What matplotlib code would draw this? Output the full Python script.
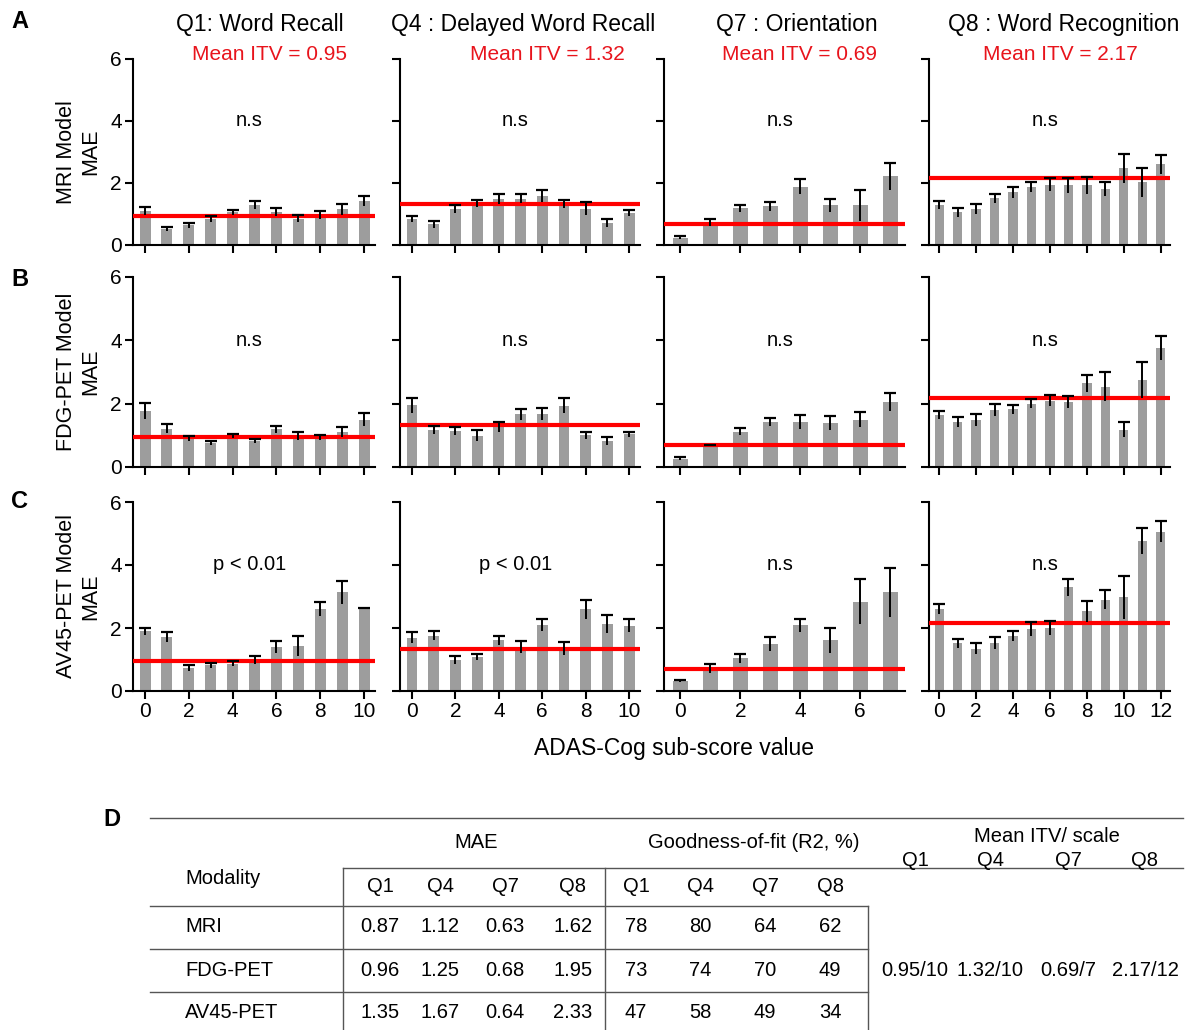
import matplotlib
matplotlib.use("Agg")
import matplotlib.pyplot as plt
import numpy as np

plt.rcParams["font.family"] = ["Liberation Sans", "DejaVu Sans"]

# --- dados -------------------------------------------------------------------
titles = ["Q1: Word Recall", "Q4 : Delayed Word Recall", "Q7 : Orientation", "Q8 : Word Recognition"]
models = ["MRI Model", "FDG-PET Model", "AV45-PET Model"]
mean_itv = [0.95, 1.32, 0.69, 2.17]
max_score = [10, 10, 7, 12]
stat_text = [["n.s", "n.s", "n.s", "n.s"],
             ["n.s", "n.s", "n.s", "n.s"],
             ["p < 0.01", "p < 0.01", "n.s", "n.s"]]

# MRI
mri_q1 = [1.10, 0.52, 0.63, 0.84, 1.05, 1.29, 1.06, 0.85, 0.97, 1.15, 1.42]
mri_q1_err = [0.12, 0.06, 0.08, 0.10, 0.09, 0.12, 0.14, 0.11, 0.13, 0.18, 0.17]
mri_q4 = [0.85, 0.67, 1.15, 1.34, 1.48, 1.50, 1.59, 1.32, 1.17, 0.70, 1.04]
mri_q4_err = [0.10, 0.12, 0.13, 0.12, 0.16, 0.15, 0.20, 0.14, 0.21, 0.13, 0.10]
mri_q7 = [0.24, 0.72, 1.19, 1.25, 1.88, 1.28, 1.28, 2.21]
mri_q7_err = [0.06, 0.11, 0.11, 0.15, 0.24, 0.21, 0.50, 0.45]
mri_q8 = [1.29, 1.05, 1.16, 1.51, 1.70, 1.86, 1.95, 1.92, 1.93, 1.80, 2.47, 2.02, 2.60]
mri_q8_err = [0.13, 0.14, 0.16, 0.14, 0.17, 0.16, 0.21, 0.24, 0.27, 0.23, 0.48, 0.48, 0.30]

# FDG-PET
fdg_q1 = [1.78, 1.21, 0.90, 0.76, 0.98, 0.82, 1.19, 0.98, 0.93, 1.10, 1.50]
fdg_q1_err = [0.25, 0.15, 0.07, 0.05, 0.05, 0.07, 0.12, 0.14, 0.07, 0.15, 0.21]
fdg_q4 = [1.95, 1.18, 1.13, 0.99, 1.27, 1.66, 1.66, 1.94, 1.01, 0.83, 1.03]
fdg_q4_err = [0.24, 0.13, 0.13, 0.17, 0.15, 0.17, 0.19, 0.25, 0.11, 0.12, 0.09]
fdg_q7 = [0.26, 0.68, 1.11, 1.43, 1.43, 1.39, 1.50, 2.05]
fdg_q7_err = [0.05, 0.03, 0.11, 0.13, 0.22, 0.21, 0.23, 0.29]
fdg_q8 = [1.64, 1.42, 1.48, 1.79, 1.82, 2.00, 2.10, 2.05, 2.65, 2.54, 1.18, 2.75, 3.77]
fdg_q8_err = [0.12, 0.16, 0.18, 0.19, 0.14, 0.15, 0.17, 0.20, 0.27, 0.46, 0.24, 0.57, 0.38]

# AV45-PET
av45_q1 = [1.89, 1.72, 0.74, 0.81, 0.87, 0.98, 1.40, 1.43, 2.60, 3.13, 2.65]
av45_q1_err = [0.12, 0.15, 0.09, 0.08, 0.08, 0.13, 0.18, 0.33, 0.22, 0.36, 0.0]
av45_q4 = [1.69, 1.75, 0.99, 1.08, 1.61, 1.39, 2.09, 1.35, 2.59, 2.13, 2.07]
av45_q4_err = [0.17, 0.14, 0.13, 0.11, 0.15, 0.19, 0.19, 0.22, 0.30, 0.29, 0.21]
av45_q7 = [0.31, 0.71, 1.04, 1.48, 2.09, 1.61, 2.84, 3.13]
av45_q7_err = [0.03, 0.14, 0.15, 0.22, 0.21, 0.39, 0.72, 0.79]
av45_q8 = [2.60, 1.52, 1.34, 1.52, 1.75, 1.96, 1.99, 3.29, 2.53, 2.90, 2.97, 4.76, 5.06]
av45_q8_err = [0.15, 0.14, 0.17, 0.20, 0.16, 0.22, 0.22, 0.27, 0.33, 0.30, 0.69, 0.40, 0.34]

mae_vals = [[mri_q1, mri_q4, mri_q7, mri_q8],
            [fdg_q1, fdg_q4, fdg_q7, fdg_q8],
            [av45_q1, av45_q4, av45_q7, av45_q8]]
mae_errs = [[mri_q1_err, mri_q4_err, mri_q7_err, mri_q8_err],
            [fdg_q1_err, fdg_q4_err, fdg_q7_err, fdg_q8_err],
            [av45_q1_err, av45_q4_err, av45_q7_err, av45_q8_err]]

# tabela D
tab_modalities = ["MRI", "FDG-PET", "AV45-PET"]
tab_questions = ["Q1", "Q4", "Q7", "Q8"]
tab_mae = [["0.87", "1.12", "0.63", "1.62"],
           ["0.96", "1.25", "0.68", "1.95"],
           ["1.35", "1.67", "0.64", "2.33"]]
tab_r2 = [["78", "80", "64", "62"],
          ["73", "74", "70", "49"],
          ["47", "58", "49", "34"]]
tab_itv = ["0.95/10", "1.32/10", "0.69/7", "2.17/12"]

# --- layout ------------------------------------------------------------------
W, H = 1189, 1030
fig = plt.figure(figsize=(W / 100, H / 100), dpi=100)

col_l = [133, 400, 664, 929]
col_r = [375, 640, 905, 1170]
row_t = [59, 277, 502]
row_b = [245, 467, 691]

bar_color = "#9d9d9d"
fs_tick = 15

for r in range(3):
    for c in range(4):
        ax = fig.add_axes([col_l[c] / W, 1 - row_b[r] / H,
                           (col_r[c] - col_l[c]) / W, (row_b[r] - row_t[r]) / H])
        x = np.arange(max_score[c] + 1)
        y = np.array(mae_vals[r][c])
        e = np.array(mae_errs[r][c])
        x = x[:len(y)]
        ax.bar(x, y, width=0.5, color=bar_color, zorder=2)
        ax.axhline(mean_itv[c], color="#ff0000", lw=3, zorder=3)
        ax.vlines(x, y - e, y + e, color="black", lw=1.4, zorder=4)
        ax.plot(x, y + e, ls="none", marker="_", ms=9, mew=1.6, color="black", zorder=4)

        ax.set_xlim(-0.55, max_score[c] + 0.5)
        ax.set_ylim(0, 6)
        ax.set_yticks([0, 2, 4, 6])
        ax.set_xticks(np.arange(0, max_score[c] + 1, 2))
        for s in ["top", "right"]:
            ax.spines[s].set_visible(False)
        for s in ["left", "bottom"]:
            ax.spines[s].set_linewidth(1.5)
        ax.tick_params(width=1.5, length=6, labelsize=fs_tick, pad=2)
        if c > 0:
            ax.set_yticklabels([])
        if r < 2:
            ax.set_xticklabels([])

        ax.text(0.48, 4.0, stat_text[r][c], transform=ax.get_yaxis_transform(),
                ha="center", va="center", fontsize=14.5)

        if c == 0:
            ax.set_ylabel(models[r] + "\nMAE", fontsize=15.5, linespacing=1.2)
            ax.yaxis.set_label_coords(-0.13, 0.5)

# titulos e Mean ITV
title_x = [260, 523, 797, 1064]
itv_x = [270, 547, 799, 1060]
for c in range(4):
    fig.text(title_x[c] / W, 1 - 25 / H, titles[c], ha="center", va="center", fontsize=16.5)
    fig.text(itv_x[c] / W, 1 - 55 / H, f"Mean ITV = {mean_itv[c]:.2f}", ha="center", va="center",
             fontsize=15, color="#e8141c")

fig.text(674 / W, 1 - 748 / H, "ADAS-Cog sub-score value", ha="center", va="center", fontsize=16.5)

for lab, px, py in [("A", 20, 22), ("B", 20, 279), ("C", 20, 502), ("D", 112, 820)]:
    fig.text(px / W, 1 - py / H, lab, ha="center", va="center", fontsize=17, fontweight="bold")

# --- tabela D ----------------------------------------------------------------
tax = fig.add_axes([0, 0, 1, 1])
tax.set_xlim(0, W)
tax.set_ylim(H, 0)
tax.axis("off")

lc = "#555555"
tax.plot([150, 1183], [818, 818], color=lc, lw=1)
tax.plot([343, 1183], [868, 868], color=lc, lw=1)
tax.plot([150, 868], [906, 906], color=lc, lw=1)
tax.plot([150, 868], [949, 949], color=lc, lw=1)
tax.plot([150, 868], [992, 992], color=lc, lw=1)
tax.plot([343, 343], [868, 1030], color=lc, lw=1)
tax.plot([605, 605], [868, 1030], color=lc, lw=1)
tax.plot([868, 868], [906, 1030], color=lc, lw=1)

fs_tab = 14.5
tax.text(476, 842, "MAE", ha="center", va="center", fontsize=fs_tab)
tax.text(754, 842, "Goodness-of-fit (R2, %)", ha="center", va="center", fontsize=fs_tab)
tax.text(1047, 837, "Mean ITV/ scale", ha="center", va="center", fontsize=fs_tab)
tax.text(185, 878, "Modality", ha="left", va="center", fontsize=fs_tab)

mae_x = [380, 440, 505, 573]
r2_x = [636, 700, 765, 830]
itv_cols = [915, 990, 1068, 1145]
row_y = [926, 970, 1012]
for i, q in enumerate(tab_questions):
    tax.text(mae_x[i], 887, q, ha="center", va="center", fontsize=fs_tab)
    tax.text(r2_x[i], 887, q, ha="center", va="center", fontsize=fs_tab)
    tax.text(itv_cols[i], 860, q, ha="center", va="center", fontsize=fs_tab)
    tax.text(itv_cols[i], 970, tab_itv[i], ha="center", va="center", fontsize=fs_tab)

for j, m in enumerate(tab_modalities):
    tax.text(185, row_y[j], m, ha="left", va="center", fontsize=fs_tab)
    for i in range(4):
        tax.text(mae_x[i], row_y[j], tab_mae[j][i], ha="center", va="center", fontsize=fs_tab)
        tax.text(r2_x[i], row_y[j], tab_r2[j][i], ha="center", va="center", fontsize=fs_tab)

fig.savefig("out.png", dpi=100)
